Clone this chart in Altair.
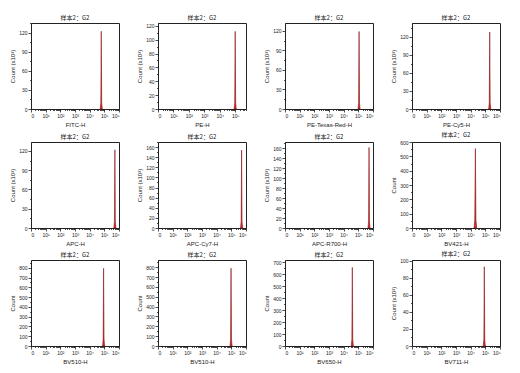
import altair as alt
import pandas as pd
import math

panel_title = "样本2：G2"
channels = ["FITC-H", "PE-H", "PE-Texas-Red-H", "PE-Cy5-H",
            "APC-H", "APC-Cy7-H", "APC-R700-H", "BV421-H",
            "BV510-H", "BV510-H", "BV650-H", "BV711-H"]
scaled = [True, True, True, True, True, True, True, False, False, False, False, True]
x_max = [6, 5.7, 6, 6, 6, 6, 6, 6, 6, 6, 6, 6]
y_max = [135, 124, 132, 143, 134, 170, 173, 600, 880, 873, 717, 101]
y_step = [30, 20, 30, 30, 30, 20, 20, 100, 100, 100, 100, 20]

# spike profiles (log10 position, count)
spike_x = [
    [4.72, 4.76, 4.79, 4.82, 4.86],
    [4.93, 4.97, 5.00, 5.03, 5.07],
    [4.98, 5.02, 5.05, 5.08, 5.12],
    [5.23, 5.27, 5.30, 5.33, 5.37],
    [5.65, 5.69, 5.72, 5.75, 5.79],
    [5.63, 5.67, 5.70, 5.73, 5.77],
    [5.66, 5.70, 5.73, 5.76, 5.80],
    [4.23, 4.28, 4.32, 4.36, 4.41],
    [4.88, 4.92, 4.95, 4.98, 5.02],
    [4.91, 4.95, 4.98, 5.01, 5.05],
    [4.52, 4.56, 4.59, 4.62, 4.66],
    [4.86, 4.90, 4.93, 4.96, 5.00],
]
spike_count = [
    [0, 10, 122, 10, 0],
    [0, 9, 112, 9, 0],
    [0, 10, 119, 10, 0],
    [0, 11, 128, 11, 0],
    [0, 10, 122, 10, 0],
    [0, 13, 154, 13, 0],
    [0, 14, 162, 14, 0],
    [0, 55, 554, 55, 0],
    [0, 70, 795, 70, 0],
    [0, 70, 790, 70, 0],
    [0, 55, 655, 55, 0],
    [0, 8, 93, 8, 0],
]

FONT = "Liberation Sans"
DARK = "#222222"
sup = "['⁰','¹','²','³','⁴','⁵','⁶']"
x_label_expr = "datum.value == 0 ? '0' : '10' + " + sup + "[datum.value]"

minor_x = [d + math.log10(k) for d in range(0, 6) for k in range(2, 10)]


def panel(i):
    df = pd.DataFrame({"x": spike_x[i], "count": spike_count[i]})
    ytitle = "Count     (x10³)" if scaled[i] else "Count"
    xscale = alt.Scale(domain=[0, x_max[i]], nice=False, zero=False)
    yscale = alt.Scale(domain=[0, y_max[i]], nice=False)
    xvals = [v for v in range(0, 7) if v <= x_max[i]]
    yvals = list(range(0, int(y_max[i]) + 1, y_step[i]))
    yminor = [v + y_step[i] / 2 for v in yvals if v + y_step[i] / 2 <= y_max[i]]
    main = alt.Chart(df).mark_area(
        color="#d42a2a", stroke="#8a1010", strokeWidth=0.6, interpolate="linear"
    ).encode(
        x=alt.X("x:Q", scale=xscale,
                axis=alt.Axis(values=xvals, labelExpr=x_label_expr, title=channels[i],
                              orient="bottom", grid=False, labelOverlap=False)),
        y=alt.Y("count:Q", scale=yscale,
                axis=alt.Axis(values=yvals, title=ytitle, orient="left", grid=False,
                              labelOverlap=False)),
    )
    minor = alt.Chart(df).mark_area(opacity=0).encode(
        x=alt.X("x:Q", scale=xscale,
                axis=alt.Axis(values=[m for m in minor_x if m <= x_max[i]], labels=False,
                              title=None, orient="bottom", grid=False, tickSize=1.5,
                              domain=False)),
        y=alt.Y("count:Q", scale=yscale,
                axis=alt.Axis(values=yminor, labels=False, title=None, orient="left",
                              grid=False, tickSize=1.5, domain=False)),
    )
    return alt.layer(main, minor).resolve_axis(x="independent", y="independent").properties(
        width=88, height=86,
        title=alt.TitleParams(panel_title, fontSize=6, font="Noto Sans CJK SC",
                              fontWeight="normal", color=DARK, offset=2),
    )


chart = alt.concat(*[panel(i) for i in range(12)], columns=4,
                   spacing={"row": 3, "column": 16}).properties(
    padding={"left": 1, "top": 6, "right": 2, "bottom": 2},
    background="white",
).configure_axis(
    labelFontSize=5, titleFontSize=6, labelFont=FONT, titleFont=FONT,
    tickSize=3, tickColor=DARK, domainColor=DARK, labelColor=DARK, titleColor=DARK,
    titleFontWeight="normal", labelPadding=1, titlePadding=3, tickWidth=0.8, domainWidth=1,
).configure_view(stroke=DARK, strokeWidth=1)

chart.save("out.html", embed_options={"renderer": "svg", "actions": False})
